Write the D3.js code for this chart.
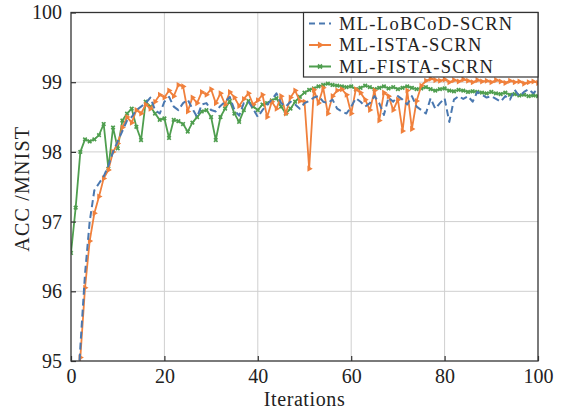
<!DOCTYPE html>
<html><head><meta charset="utf-8">
<script src="https://cdn.jsdelivr.net/npm/d3@7"></script>
<style>body{margin:0;background:#fff}</style>
</head><body>
<svg id="c" width="561" height="414"></svg>
<script>
const iterations = d3.range(0, 101);
const lobcod = [92.8,94.0,95.2,96.25,97.0,97.45,97.55,97.65,97.8,98.0,98.15,98.3,98.45,98.5,98.6,98.65,98.7,98.78,98.6,98.55,98.72,98.79,98.65,98.6,98.7,98.75,98.62,98.5,98.68,98.7,98.6,98.58,98.66,98.72,98.79,98.6,98.52,98.7,98.72,98.62,98.5,98.6,98.68,98.75,98.84,98.7,98.65,98.72,98.68,98.62,98.7,98.73,98.78,98.8,98.72,98.7,98.75,98.62,98.58,98.55,98.65,98.77,98.72,98.65,98.7,98.8,98.7,98.53,98.78,98.72,98.8,98.75,98.68,98.8,98.65,98.6,98.55,98.77,98.62,98.7,98.77,98.43,98.75,98.8,98.76,98.8,98.72,98.86,98.82,98.78,98.8,98.76,98.72,98.8,98.75,98.89,98.8,98.86,98.9,98.84,98.91];
const ista = [92.6,93.9,95.05,96.05,96.72,97.12,97.36,97.62,97.74,98.0,98.12,98.35,98.5,98.42,98.6,98.55,98.68,98.62,98.72,98.82,98.78,98.88,98.8,98.96,98.94,98.58,98.78,98.7,98.86,98.82,98.9,98.7,98.84,98.68,98.86,98.78,98.66,98.76,98.84,98.68,98.74,98.82,98.5,98.72,98.62,98.8,98.55,98.78,98.88,98.73,98.72,97.76,98.89,98.7,98.92,98.55,98.8,98.88,98.9,98.82,98.55,98.9,98.85,98.75,98.6,98.88,98.45,98.85,98.8,98.6,98.75,98.3,98.88,98.33,98.73,98.95,99.02,99.05,99.03,99.02,99.04,99.0,99.03,99.01,99.04,99.02,99.0,99.03,99.01,99.02,99.0,99.03,99.01,98.99,99.02,99.0,99.01,98.98,99.0,99.01,98.99];
const fista = [96.55,97.2,98.0,98.18,98.15,98.18,98.24,98.4,97.76,98.35,98.05,98.45,98.55,98.62,98.36,98.17,98.72,98.65,98.55,98.46,98.48,98.2,98.46,98.44,98.4,98.29,98.42,98.5,98.58,98.6,98.5,98.17,98.5,98.62,98.73,98.55,98.43,98.6,98.73,98.65,98.6,98.68,98.7,98.74,98.77,98.65,98.55,98.62,98.72,98.79,98.85,98.89,98.91,98.94,98.96,98.98,98.96,98.95,98.94,98.93,98.94,98.9,98.92,98.95,98.93,98.9,98.92,98.94,98.91,98.93,98.9,98.92,98.94,98.92,98.9,98.91,98.93,98.9,98.88,98.9,98.91,98.88,98.87,98.89,98.88,98.86,98.87,98.86,98.85,98.84,98.86,98.84,98.83,98.85,98.82,98.83,98.81,98.82,98.8,98.81,98.8];
const seriesNames = ["ML-LoBCoD-SCRN","ML-ISTA-SCRN","ML-FISTA-SCRN"];
const xTicks = [0,20,40,60,80,100];
const yTicks = [95,96,97,98,99,100];
const xLabel = "Iterations";
const yLabel = "ACC /MNIST";

const svg = d3.select("#c");
const L = 71, R = 538, T = 12.5, B = 361;
const x = d3.scaleLinear().domain([0,100]).range([L,R]);
const y = d3.scaleLinear().domain([95,100]).range([B,T]);
const font = "'Liberation Serif', 'DejaVu Serif', serif";

svg.append("defs").append("clipPath").attr("id","clip")
  .append("rect").attr("x",L).attr("y",T).attr("width",R-L).attr("height",B-T);

svg.append("g").selectAll("line").data(xTicks.slice(1,-1)).join("line")
  .attr("x1",d=>x(d)).attr("x2",d=>x(d)).attr("y1",T).attr("y2",B)
  .attr("stroke","#cfcfcf").attr("stroke-width",1);
svg.append("g").selectAll("line").data(yTicks.slice(1,-1)).join("line")
  .attr("y1",d=>y(d)).attr("y2",d=>y(d)).attr("x1",L).attr("x2",R)
  .attr("stroke","#cfcfcf").attr("stroke-width",1);

const colors = ["#4a78b0","#f0803c","#4f9e4f"];
const data = [lobcod, ista, fista];
const line = d3.line().x((d,i)=>x(iterations[i])).y(d=>y(d));
const plot = svg.append("g").attr("clip-path","url(#clip)");

const order = [2,1,0];
order.forEach(k=>{
  plot.append("path").datum(data[k]).attr("d",line).attr("fill","none")
    .attr("stroke",colors[k]).attr("stroke-width",k===0?2:1.8)
    .attr("stroke-dasharray",k===0?"7,4":null).attr("stroke-linejoin","round");
  if(k===1){
    plot.append("g").selectAll("path").data(data[k]).join("path")
      .attr("d",d3.symbol(d3.symbolTriangle,16)())
      .attr("transform",(d,i)=>`translate(${x(iterations[i])},${y(d)}) rotate(90)`)
      .attr("fill",colors[k]);
  }
  if(k===2){
    plot.append("g").selectAll("path").data(data[k]).join("path")
      .attr("d",d3.symbol(d3.symbolCross,14)())
      .attr("transform",(d,i)=>`translate(${x(iterations[i])},${y(d)}) rotate(45)`)
      .attr("fill",colors[k]);
  }
});

const xAxis = d3.axisBottom(x).tickValues(xTicks).tickSize(-5).tickPadding(8).tickFormat(d3.format("d"));
const yAxis = d3.axisLeft(y).tickValues(yTicks).tickSize(-5).tickPadding(9).tickFormat(d3.format("d"));
const gx = svg.append("g").attr("transform",`translate(0,${B})`).call(xAxis);
const gy = svg.append("g").attr("transform",`translate(${L},0)`).call(yAxis);
[gx,gy].forEach(g=>{
  g.select(".domain").remove();
  g.selectAll(".tick line").attr("stroke","#333").attr("stroke-width",1.2);
  g.selectAll("text").attr("font-family",font).attr("font-size",20).attr("fill","#222");
});
gx.selectAll("text").attr("dy","0.72em");
svg.append("rect").attr("x",L).attr("y",T).attr("width",R-L).attr("height",B-T)
  .attr("fill","none").attr("stroke","#333").attr("stroke-width",1.3);

svg.append("text").attr("x",(L+R)/2).attr("y",406).attr("text-anchor","middle")
  .attr("font-family",font).attr("font-size",20).attr("letter-spacing",0.6).attr("fill","#222").text(xLabel);
svg.append("text").attr("transform",`translate(29,${(T+B)/2+2}) rotate(-90)`).attr("text-anchor","middle")
  .attr("font-family",font).attr("font-size",20).attr("letter-spacing",1.2).attr("fill","#222").text(yLabel);

const lg = svg.append("g");
lg.append("rect").attr("x",303.5).attr("y",T).attr("width",R-303.5).attr("height",64.5)
  .attr("fill","#fff").attr("stroke","#333").attr("stroke-width",1.2);
seriesNames.forEach((n,k)=>{
  const cy = 23.5 + k*21.5;
  lg.append("line").attr("x1",309).attr("x2",331).attr("y1",cy).attr("y2",cy)
    .attr("stroke",colors[k]).attr("stroke-width",2).attr("stroke-dasharray",k===0?"6,4":null);
  if(k===1) lg.append("path").attr("d",d3.symbol(d3.symbolTriangle,22)()).attr("transform",`translate(320,${cy}) rotate(90)`).attr("fill",colors[k]);
  if(k===2) lg.append("path").attr("d",d3.symbol(d3.symbolCross,18)()).attr("transform",`translate(320,${cy}) rotate(45)`).attr("fill",colors[k]);
  lg.append("text").attr("x",339).attr("y",cy).attr("dy","0.35em").attr("font-family",font)
    .attr("font-size",18.5).attr("letter-spacing",1.3).attr("fill","#222").text(n);
});
</script>
</body></html>
